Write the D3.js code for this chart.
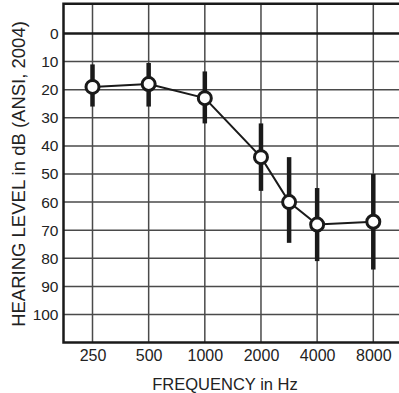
<!DOCTYPE html>
<html>
<head>
<meta charset="utf-8">
<script src="https://cdn.jsdelivr.net/npm/d3@7"></script>
<style>
  body { margin: 0; background: #fff; }
  text { font-family: "Liberation Sans", Arial, Helvetica, sans-serif; fill: #222; }
</style>
</head>
<body>
<svg width="399" height="393"></svg>
<script>
// audiogram data
const freqTicks = [250, 500, 1000, 2000, 4000, 8000];
const dbTicks = [0, 10, 20, 30, 40, 50, 60, 70, 80, 90, 100];
const freqs  = [250, 500, 1000, 2000, 2830, 4000, 8000];
const levels = [19, 18, 23, 44, 60, 68, 67];
const lows   = [11, 10.5, 13.5, 32, 44, 55, 50];   // top end of each bar
const highs  = [26, 26, 32, 56, 74.5, 81, 84];     // bottom end of each bar

const data = freqs.map((f, i) => ({ f, db: levels[i], lo: lows[i], hi: highs[i] }));

const svg = d3.select('svg');

const xScale = d3.scaleLog().base(2)          // octave spacing
  .domain([250, 8000])
  .range([92.5, 373.3]);
const yScale = d3.scaleLinear()
  .domain([0, 100])
  .range([33.5, 314.5]);

const fMin = xScale.invert(63.5), fMax = xScale.invert(420);
const dbTop = -10.6, dbBottom = 110;

const g = svg.append('g');

// grid
g.selectAll('.hgrid').data(dbTicks.filter(d => d > 0)).join('line')
  .attr('x1', xScale(fMin)).attr('x2', xScale(fMax))
  .attr('y1', d => yScale(d)).attr('y2', d => yScale(d))
  .attr('stroke', '#4a4a4a').attr('stroke-width', 1.5);
g.selectAll('.vgrid').data(freqTicks).join('line')
  .attr('x1', d => xScale(d)).attr('x2', d => xScale(d))
  .attr('y1', yScale(dbTop)).attr('y2', yScale(dbBottom))
  .attr('stroke', '#4a4a4a').attr('stroke-width', 1.5);

// zero line
g.append('line')
  .attr('x1', xScale(fMin)).attr('x2', xScale(fMax))
  .attr('y1', yScale(0)).attr('y2', yScale(0))
  .attr('stroke', '#1a1a1a').attr('stroke-width', 2.5);

// frame (left, top, bottom)
g.append('path')
  .attr('d', `M${xScale(fMax)},${yScale(dbTop)} H${xScale(fMin)} V${yScale(dbBottom)} H${xScale(fMax)}`)
  .attr('fill', 'none').attr('stroke', '#1a1a1a').attr('stroke-width', 2.5);

// axes labels via d3 axes
const xAxis = d3.axisBottom(xScale).tickValues(freqTicks).tickSize(0).tickPadding(7)
  .tickFormat(d3.format('d'));
const xAxisG = g.append('g').attr('transform', `translate(0,${yScale(dbBottom)})`).call(xAxis);
xAxisG.select('.domain').remove();
xAxisG.selectAll('text').style('font-size', '16px').attr('fill', '#222')
  .style('font-family', '"Liberation Sans", Arial, sans-serif');

const yAxis = d3.axisLeft(yScale).tickValues(dbTicks).tickSize(0).tickPadding(5);
const yAxisG = g.append('g').attr('transform', `translate(${xScale(fMin)},0)`).call(yAxis);
yAxisG.select('.domain').remove();
yAxisG.selectAll('text').style('font-size', '15.5px').attr('fill', '#222')
  .style('font-family', '"Liberation Sans", Arial, sans-serif');

// error bars
g.selectAll('.err').data(data).join('line')
  .attr('x1', d => xScale(d.f)).attr('x2', d => xScale(d.f))
  .attr('y1', d => yScale(d.lo)).attr('y2', d => yScale(d.hi))
  .attr('stroke', '#1a1a1a').attr('stroke-width', 4.5);

// connecting line
const line = d3.line().x(d => xScale(d.f)).y(d => yScale(d.db));
g.append('path').attr('d', line(data))
  .attr('fill', 'none').attr('stroke', '#1a1a1a').attr('stroke-width', 2);

// markers
g.selectAll('.pt').data(data).join('circle')
  .attr('cx', d => xScale(d.f)).attr('cy', d => yScale(d.db))
  .attr('r', 6.5)
  .attr('fill', '#fff').attr('stroke', '#1a1a1a').attr('stroke-width', 3);

// titles
svg.append('text')
  .attr('text-anchor', 'middle')
  .attr('x', 225).attr('y', 390)
  .style('font-size', '16.5px')
  .text('FREQUENCY in Hz');

svg.append('text')
  .attr('text-anchor', 'middle')
  .attr('transform', 'translate(25,174) rotate(-90)')
  .style('font-size', '18.5px')
  .text('HEARING LEVEL in dB (ANSI, 2004)');
</script>
</body>
</html>
